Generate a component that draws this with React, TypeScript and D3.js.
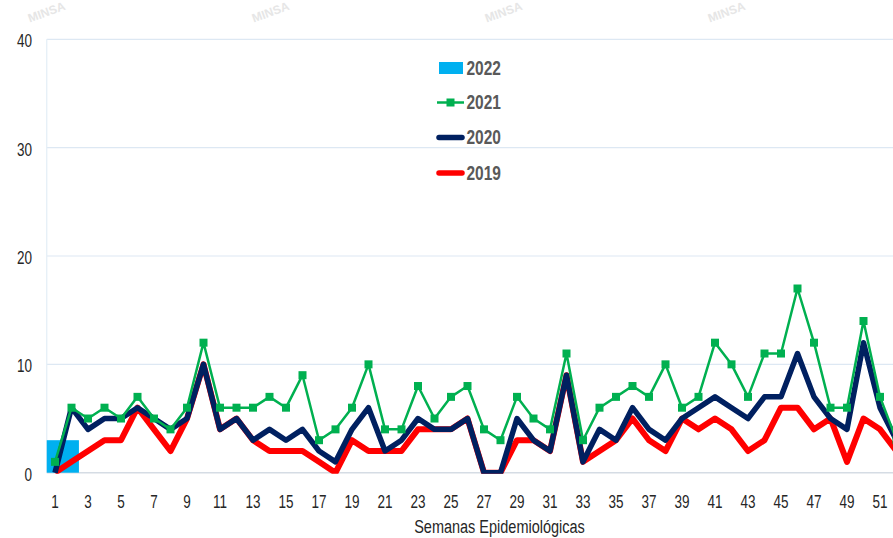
import React from "react";
import * as d3 from "d3";

const weeks = [1,2,3,4,5,6,7,8,9,10,11,12,13,14,15,16,17,18,19,20,21,22,23,24,25,26,27,28,29,30,31,32,33,34,35,36,37,38,39,40,41,42,43,44,45,46,47,48,49,50,51,52];
const weeks2022 = [1];
const cases2022 = [3];
const cases2021 = [1,6,5,6,5,7,5,4,6,12,6,6,6,7,6,9,3,4,6,10,4,4,8,5,7,8,4,3,7,5,4,11,3,6,7,8,7,10,6,7,12,10,7,11,11,17,12,6,6,14,7,3];
const cases2020 = [0,6,4,5,5,6,5,4,5,10,4,5,3,4,3,4,2,1,4,6,2,3,5,4,4,5,0,0,5,3,2,9,1,4,3,6,4,3,5,6,7,6,5,7,7,11,7,5,4,12,6,3];
const cases2019 = [0,1,2,3,3,6,4,2,5,10,4,5,3,2,2,2,1,0,3,2,2,2,4,4,4,5,0,0,3,3,2,9,1,2,3,5,3,2,5,4,5,4,2,3,6,6,4,5,1,5,4,2];
const yTicks = [0,10,20,30,40];
const xTickWeeks = [1,3,5,7,9,11,13,15,17,19,21,23,25,27,29,31,33,35,37,39,41,43,45,47,49,51];
const legendLabels = ["2022","2021","2020","2019"];
const xTitle = "Semanas Epidemiológicas";
const watermark = "MINSA";

const C2022 = "#00B0F0";
const C2021 = "#00B050";
const C2020 = "#002060";
const C2019 = "#FF0000";
const FONT = "'Liberation Sans', Arial, sans-serif";

function SText({ x, y, sy = 1.4, children, ...rest }: any) {
  return (
    <text transform={`translate(${x},${y}) scale(1,${sy})`} dominantBaseline="central" {...rest}>
      {children}
    </text>
  );
}

export default function App() {
  const W = 893, H = 538;
  const plotLeft = 46.75, band = 16.5, plotTop = 39.3, plotBottom = 472.7;
  const x = d3.scaleBand<number>().domain(weeks).range([plotLeft, plotLeft + band * weeks.length]).paddingInner(0).paddingOuter(0);
  const cx = (w: number) => (x(w) as number) + x.bandwidth() / 2;
  const y = d3.scaleLinear().domain([0, 40]).range([plotBottom, plotTop]);
  const line = d3.line<number>().x((_, i) => cx(weeks[i])).y((d) => y(d));
  const barW = x.bandwidth() * 2.9;

  const legendX = 439;
  const legendYs = [68, 102.5, 137.5, 173];

  return (
    <svg width={W} height={H} style={{ position: "absolute", left: 0, top: 0, background: "#fff" }} fontFamily={FONT}>
      <defs>
        <clipPath id="plotClip">
          <rect x={plotLeft} y={plotTop - 20} width={W - plotLeft} height={plotBottom - plotTop + 21} />
        </clipPath>
      </defs>
      <rect x={0} y={0} width={W} height={H} fill="#fff" />
      {[48, 272, 505, 728].map((wx, i) => (
        <text key={i} transform={`translate(${wx},16) rotate(-20)`} fontSize={12} fontWeight="bold" fill="#e6e6e6" textAnchor="middle">
          {watermark}
        </text>
      ))}
      {/* gridlines */}
      {yTicks.map((t) => (
        <line key={t} x1={plotLeft} x2={W} y1={y(t)} y2={y(t)} stroke={t === 0 ? "#D5DCE4" : "#DDE8F3"} strokeWidth={t === 0 ? 1.5 : 1.2} />
      ))}
      <line x1={plotLeft} x2={plotLeft} y1={plotTop} y2={plotBottom} stroke="#E3EEF6" strokeWidth={1.2} />
      {/* y tick labels */}
      {yTicks.map((t) => (
        <SText key={t} x={32} y={y(t) + 1} textAnchor="end" fontSize={13.5} fill="#262626">{t}</SText>
      ))}
      {/* x tick labels */}
      {xTickWeeks.map((w) => (
        <SText key={w} x={cx(w)} y={501.5} textAnchor="middle" fontSize={13.5} fill="#262626">{w}</SText>
      ))}
      <SText x={499.5} y={526.5} sy={1.3} textAnchor="middle" fontSize={14.5} fill="#262626">{xTitle}</SText>

      <g clipPath="url(#plotClip)">
        {weeks2022.map((w, i) => (
          <rect key={w} x={cx(w) - barW / 2} y={y(cases2022[i])} width={barW} height={y(0) - y(cases2022[i])} fill={C2022} />
        ))}
        <path d={line(cases2019) as string} fill="none" stroke={C2019} strokeWidth={6} strokeLinejoin="round" />
        <path d={line(cases2020) as string} fill="none" stroke={C2020} strokeWidth={5.5} strokeLinejoin="round" />
        <path d={line(cases2021) as string} fill="none" stroke={C2021} strokeWidth={2.5} strokeLinejoin="round" />
        {cases2021.map((v, i) => (
          <rect key={i} x={cx(weeks[i]) - 4} y={y(v) - 4} width={8} height={8} fill={C2021} />
        ))}
      </g>

      {/* legend */}
      <rect x={legendX} y={legendYs[0] - 6} width={24} height={12} fill={C2022} />
      <line x1={legendX - 2} x2={legendX + 25} y1={legendYs[1]} y2={legendYs[1]} stroke={C2021} strokeWidth={2.5} />
      <rect x={legendX + 11.5 - 4} y={legendYs[1] - 4} width={8} height={8} fill={C2021} />
      <line x1={legendX} x2={legendX + 23} y1={legendYs[2]} y2={legendYs[2]} stroke={C2020} strokeWidth={5.5} strokeLinecap="round" />
      <line x1={legendX} x2={legendX + 23} y1={legendYs[3]} y2={legendYs[3]} stroke={C2019} strokeWidth={5.5} strokeLinecap="round" />
      {legendLabels.map((l, i) => (
        <SText key={l} x={466.5} y={legendYs[i]} sy={1.3} fontSize={15.5} fontWeight="bold" fill="#595959">{l}</SText>
      ))}
    </svg>
  );
}
